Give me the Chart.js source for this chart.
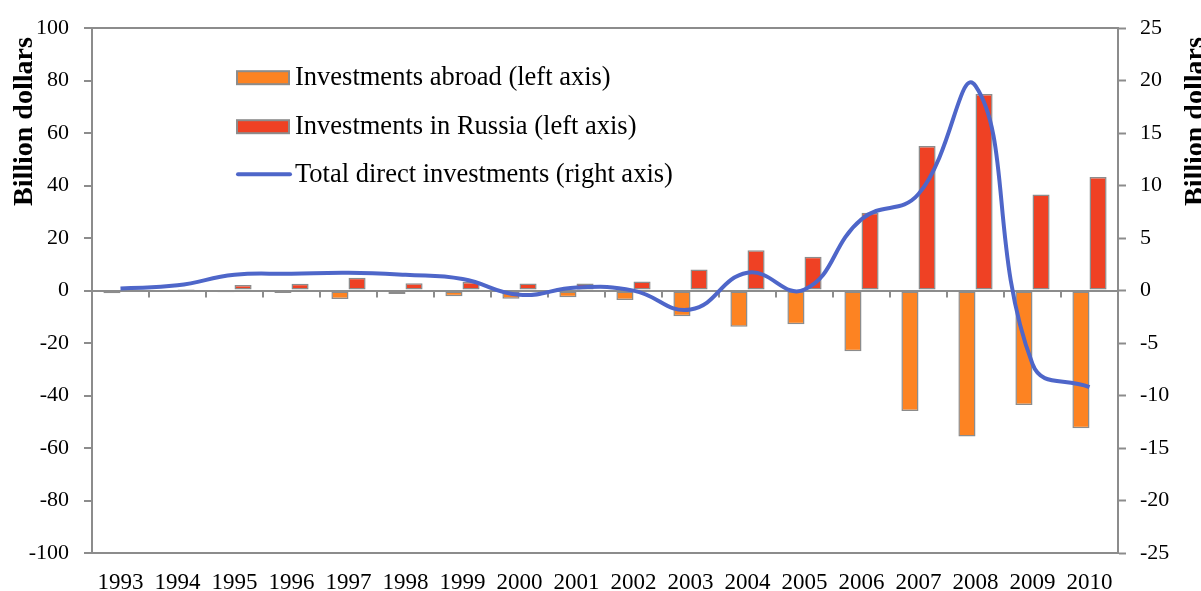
<!DOCTYPE html>
<html>
<head>
<meta charset="utf-8">
<script src="https://cdn.jsdelivr.net/npm/chart.js@4"></script>
<style>
  html, body { margin: 0; padding: 0; background: #fff; }
  #wrap { width: 1201px; height: 591px; }
</style>
</head>
<body>
<div id="wrap"><canvas id="chart" width="1201" height="591"></canvas></div>
<script>
// Data (billion dollars)
const years = ["1993", "1994", "1995", "1996", "1997", "1998", "1999", "2000", "2001",
               "2002", "2003", "2004", "2005", "2006", "2007", "2008", "2009", "2010"];
const investmentsAbroad = [-1.0, -0.2, -0.6, -0.9, -3.2, -1.3, -2.2, -3.1, -2.5,
                           -3.6, -9.8, -13.8, -12.8, -23.1, -45.9, -55.6, -43.6, -52.5];
const investmentsInRussia = [0.1, 0.6, 2.1, 2.6, 4.9, 2.8, 3.3, 2.7, 2.7,
                             3.5, 8.0, 15.4, 12.9, 29.7, 55.1, 74.9, 36.6, 43.3];
const totalDirect = [0.2, 0.5, 1.5, 1.6, 1.7, 1.5, 1.1, -0.4, 0.3,
                     0.0, -1.8, 1.7, 0.1, 6.8, 9.2, 19.5, -7.0, -9.2];

const leftAxis = { min: -100, max: 100, step: 20 };
const rightAxis = { min: -25, max: 25, step: 5 };

const labels = {
  abroad: "Investments abroad (left axis)",
  russia: "Investments in Russia (left axis)",
  total: "Total direct investments (right axis)",
  axisTitle: "Billion dollars",
};

const ORANGE = "#fd8322";
const RED = "#ef4124";
const BLUE = "#4e66c9";
const AXIS_GREY = "#8c8c8c";
const SERIF = "'Liberation Serif', 'Times New Roman', serif";

// small tick marks on the zero line between the years
const zeroTicks = {
  id: "zeroTicks",
  beforeDatasetsDraw(chart) {
    const { ctx } = chart;
    const x = chart.scales.x;
    const y0 = chart.scales.y.getPixelForValue(0);
    ctx.save();
    ctx.strokeStyle = AXIS_GREY;
    ctx.lineWidth = 2;
    for (let i = 1; i < years.length; i++) {
      const px = Math.round((x.getPixelForValue(i - 1) + x.getPixelForValue(i)) / 2);
      ctx.beginPath();
      ctx.moveTo(px, y0);
      ctx.lineTo(px, y0 + 7);
      ctx.stroke();
    }
    ctx.restore();
  },
};

// rotated title, reading bottom to top, ending near the top of the plot
function drawAxisTitle(ctx, baselineX, topY) {
  ctx.save();
  ctx.translate(baselineX, topY);
  ctx.rotate(-Math.PI / 2);
  ctx.fillStyle = "#000";
  ctx.font = "bold 28px " + SERIF;
  ctx.textAlign = "right";
  ctx.textBaseline = "alphabetic";
  ctx.fillText(labels.axisTitle, 0, 0);
  ctx.restore();
}

// legend inside the plot + both axis titles
const insideLegend = {
  id: "insideLegend",
  afterDraw(chart) {
    const { ctx, chartArea } = chart;
    const left = chartArea.left + 145;
    const rows = [chartArea.top + 49, chartArea.top + 98, chartArea.top + 146];
    ctx.save();
    // bar swatches
    [[ORANGE, rows[0]], [RED, rows[1]]].forEach(([color, cy]) => {
      ctx.fillStyle = color;
      ctx.fillRect(left, cy - 6, 52, 13);
      ctx.strokeStyle = AXIS_GREY;
      ctx.lineWidth = 2;
      ctx.strokeRect(left, cy - 6, 52, 13);
    });
    // line swatch
    ctx.strokeStyle = BLUE;
    ctx.lineWidth = 4;
    ctx.lineCap = "round";
    ctx.beginPath();
    ctx.moveTo(left + 1, rows[2]);
    ctx.lineTo(left + 53, rows[2]);
    ctx.stroke();

    ctx.fillStyle = "#000";
    ctx.font = "26.5px " + SERIF;
    ctx.textBaseline = "middle";
    ctx.textAlign = "left";
    ctx.fillText(labels.abroad, left + 58, rows[0] + 1);
    ctx.fillText(labels.russia, left + 58, rows[1] + 1);
    ctx.fillText(labels.total, left + 58, rows[2] + 1);
    ctx.restore();

    drawAxisTitle(ctx, 32, chartArea.top + 9);
    drawAxisTitle(ctx, 1203, chartArea.top + 9);
  },
};

const edgeGrid = (c) => (c.tick.value === 0 || c.tick.value === leftAxis.min || c.tick.value === leftAxis.max)
  ? AXIS_GREY : "rgba(0,0,0,0)";

new Chart(document.getElementById("chart").getContext("2d"), {
  data: {
    labels: years,
    datasets: [
      {
        type: "line",
        label: labels.total,
        data: totalDirect,
        yAxisID: "y1",
        borderColor: BLUE,
        borderWidth: 4,
        pointRadius: 0,
        tension: 0.45,
        fill: false,
        order: 0,
      },
      {
        type: "bar",
        label: labels.abroad,
        data: investmentsAbroad,
        yAxisID: "y",
        backgroundColor: ORANGE,
        borderColor: AXIS_GREY,
        borderWidth: 1.5,
        borderSkipped: false,
        categoryPercentage: 0.6,
        barPercentage: 1.0,
        order: 1,
      },
      {
        type: "bar",
        label: labels.russia,
        data: investmentsInRussia,
        yAxisID: "y",
        backgroundColor: RED,
        borderColor: AXIS_GREY,
        borderWidth: 1.5,
        borderSkipped: false,
        categoryPercentage: 0.6,
        barPercentage: 1.0,
        order: 1,
      },
    ],
  },
  options: {
    responsive: false,
    animation: false,
    layout: { padding: { top: 26, left: 0, right: 0, bottom: 0 } },
    plugins: {
      legend: { display: false },
      tooltip: { enabled: false },
    },
    scales: {
      x: {
        position: "bottom",
        grid: { display: false, drawTicks: false },
        border: { display: false },
        ticks: {
          color: "#000",
          padding: 16,
          maxRotation: 0,
          autoSkip: false,
          font: { family: SERIF, size: 23 },
        },
        afterFit(scale) { scale.height = 38; },
      },
      y: {
        position: "left",
        min: leftAxis.min,
        max: leftAxis.max,
        ticks: {
          stepSize: leftAxis.step,
          color: "#000",
          padding: 15,
          font: { family: SERIF, size: 22 },
        },
        grid: {
          color: edgeGrid,
          lineWidth: 2,
          tickColor: AXIS_GREY,
          tickLength: 8,
          tickWidth: 2,
        },
        border: { color: AXIS_GREY, width: 2 },
        afterFit(scale) { scale.width = 92; },
      },
      y1: {
        position: "right",
        min: rightAxis.min,
        max: rightAxis.max,
        ticks: {
          stepSize: rightAxis.step,
          color: "#000",
          padding: 14,
          font: { family: SERIF, size: 22 },
        },
        grid: {
          drawOnChartArea: false,
          tickColor: AXIS_GREY,
          tickLength: 8,
          tickWidth: 2,
        },
        border: { color: AXIS_GREY, width: 2 },
        afterFit(scale) { scale.width = 83; },
      },
    },
  },
  plugins: [zeroTicks, insideLegend],
});
</script>
</body>
</html>
